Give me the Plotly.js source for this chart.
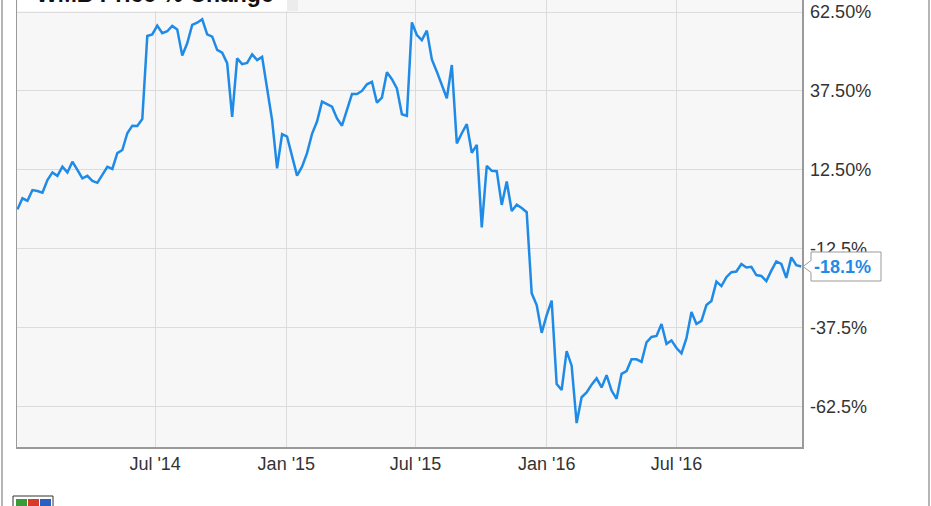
<!DOCTYPE html>
<html>
<head>
<meta charset="utf-8">
<script src="https://cdn.plot.ly/plotly-3.0.1.min.js"></script>
<style>html,body{margin:0;padding:0;background:#fff;}#chart{width:931px;height:506px;}</style>
</head>
<body>
<div id="chart"></div>
<script>
var dates = [
"2013-12-20","2013-12-27",
"2014-01-03","2014-01-10","2014-01-17","2014-01-24","2014-01-31","2014-02-07","2014-02-14","2014-02-21","2014-02-28",
"2014-03-07","2014-03-14","2014-03-21","2014-03-28","2014-04-04","2014-04-11","2014-04-18","2014-04-25",
"2014-05-02","2014-05-09","2014-05-16","2014-05-23","2014-05-30","2014-06-06","2014-06-13","2014-06-20","2014-06-27",
"2014-07-04","2014-07-11","2014-07-18","2014-07-25","2014-08-01","2014-08-08","2014-08-15","2014-08-22","2014-08-29",
"2014-09-05","2014-09-12","2014-09-19","2014-09-26","2014-10-03","2014-10-10","2014-10-17","2014-10-24","2014-10-31",
"2014-11-07","2014-11-14","2014-11-21","2014-11-28","2014-12-05","2014-12-12","2014-12-19","2014-12-26",
"2015-01-02","2015-01-09","2015-01-16","2015-01-23","2015-01-30","2015-02-06","2015-02-13","2015-02-20","2015-02-27",
"2015-03-06","2015-03-13","2015-03-20","2015-03-27","2015-04-03","2015-04-10","2015-04-17","2015-04-24",
"2015-05-01","2015-05-08","2015-05-15","2015-05-22","2015-05-29","2015-06-05","2015-06-12","2015-06-19","2015-06-26",
"2015-07-03","2015-07-10","2015-07-17","2015-07-24","2015-07-31","2015-08-07","2015-08-14","2015-08-21","2015-08-28",
"2015-09-04","2015-09-11","2015-09-18","2015-09-25","2015-10-02","2015-10-09","2015-10-16","2015-10-23","2015-10-30",
"2015-11-06","2015-11-13","2015-11-20","2015-11-27","2015-12-04","2015-12-11","2015-12-18","2015-12-25",
"2016-01-01","2016-01-08","2016-01-15","2016-01-22","2016-01-29","2016-02-05","2016-02-12","2016-02-19","2016-02-26",
"2016-03-04","2016-03-11","2016-03-18","2016-03-25","2016-04-01","2016-04-08","2016-04-15","2016-04-22","2016-04-29",
"2016-05-06","2016-05-13","2016-05-20","2016-05-27","2016-06-03","2016-06-10","2016-06-17","2016-06-24",
"2016-07-01","2016-07-08","2016-07-15","2016-07-22","2016-07-29","2016-08-05","2016-08-12","2016-08-19","2016-08-26",
"2016-09-02","2016-09-09","2016-09-16","2016-09-23","2016-09-30","2016-10-07","2016-10-14","2016-10-21","2016-10-28",
"2016-11-04","2016-11-11","2016-11-18","2016-11-25","2016-12-02","2016-12-09","2016-12-16","2016-12-23"
];

var wmbChange = [
0.0, 3.5, 2.7, 6.1, 5.8, 5.3, 9.3, 11.7, 10.6, 13.5,
11.7, 15.1, 12.5, 9.8, 10.6, 9.0, 8.4, 10.9, 13.5, 12.8,
17.8, 18.8, 24.1, 26.5, 26.4, 28.6, 54.9, 55.4, 58.2, 55.8,
56.4, 58.1, 57.0, 48.7, 52.6, 58.4, 59.1, 60.2, 55.4, 54.7,
50.5, 49.6, 46.3, 29.3, 47.8, 46.0, 46.4, 49.1, 47.3, 48.3,
37.5, 28.3, 13.0, 23.8, 23.0, 16.9, 10.7, 13.5, 17.8, 23.9,
27.8, 34.1, 33.3, 32.5, 28.8, 26.5, 31.5, 36.5, 36.5, 37.5,
39.6, 40.4, 33.8, 35.4, 43.4, 41.2, 38.3, 30.1, 29.6, 59.2,
55.2, 53.6, 56.6, 47.5, 43.6, 39.4, 35.2, 45.7, 20.9, 24.1,
27.0, 17.9, 20.4, -5.7, 13.8, 12.2, 12.1, 1.4, 8.8, -0.5,
1.5, 0.4, -0.9, -26.6, -30.3, -39.1, -33.5, -28.9, -55.3, -57.2,
-44.9, -49.5, -67.7, -59.5, -58.0, -55.5, -53.5, -56.4, -52.5, -57.4,
-60.0, -52.1, -51.2, -47.5, -47.5, -48.3, -42.1, -40.4, -40.1, -36.3,
-42.6, -41.5, -43.9, -45.6, -40.8, -32.5, -36.3, -35.3, -30.3, -29.0,
-22.9, -24.3, -21.5, -19.9, -19.7, -17.3, -18.4, -18.2, -20.8, -21.1,
-22.7, -19.4, -16.5, -17.3, -21.7, -15.2, -17.7, -18.1
];

var xTickVals = ["2014-07-01","2015-01-01","2015-07-01","2016-01-01","2016-07-01"];
var xTickText = ["Jul '14","Jan '15","Jul '15","Jan '16","Jul '16"];
var yTickVals = [62.5, 37.5, 12.5, -12.5, -37.5, -62.5];
var yTickText = ["62.50%","37.50%","12.50%","-12.5%","-37.5%","-62.5%"];
var chartTitle = "WMB Price % Change";

var W = 931, H = 506;
var M = {l: 17, r: 129, t: 0, b: 59};
var PW = W - M.l - M.r, PH = H - M.t - M.b;
var yRange = [-75.26, 66.3];
function px(p) { return (p - M.l) / PW; }
function py(p) { return (H - M.b - p) / PH; }

var lastVal = wmbChange[wmbChange.length - 1];
var lastY = (lastVal - yRange[0]) / (yRange[1] - yRange[0]);
var lineColor = "#1f8be6";
var font = "Liberation Sans, Arial, Helvetica, sans-serif";

var trace = {
  x: dates, y: wmbChange, type: "scatter", mode: "lines",
  line: {color: lineColor, width: 2.5}, hoverinfo: "x+y", showlegend: false
};

var layout = {
  width: W, height: H, autosize: false,
  margin: {l: M.l, r: M.r, t: M.t, b: M.b, pad: 0},
  paper_bgcolor: "#ffffff", plot_bgcolor: "#f7f7f7",
  font: {family: font, size: 18, color: "#333333"},
  showlegend: false,
  xaxis: {
    type: "date", range: ["2013-12-19 08:00", "2016-12-24"],
    tickvals: xTickVals, ticktext: xTickText,
    showgrid: true, gridcolor: "#dcdcdc", gridwidth: 1,
    showline: true, linecolor: "#9a9a9a", linewidth: 1.5,
    ticks: "", zeroline: false, fixedrange: true,
    tickfont: {family: font, size: 18, color: "#333333"}
  },
  yaxis: {
    side: "right", range: yRange,
    tickvals: yTickVals, ticktext: yTickText,
    showgrid: true, gridcolor: "#dcdcdc", gridwidth: 1,
    showline: true, mirror: true, linecolor: "#9a9a9a", linewidth: 1.5,
    ticks: "outside", ticklen: 3, tickcolor: "rgba(0,0,0,0)",
    zeroline: false, fixedrange: true,
    tickfont: {family: font, size: 18, color: "#333333"}
  },
  shapes: [
    {type: "line", xref: "paper", yref: "paper", x0: px(2), x1: px(2), y0: py(H + 5), y1: py(-5),
     line: {color: "#b5b5b5", width: 2}},
    {type: "line", xref: "paper", yref: "paper", x0: px(929), x1: px(929), y0: py(H + 5), y1: py(-5),
     line: {color: "#b5b5b5", width: 2}},
    {type: "rect", xref: "paper", yref: "paper", x0: px(287), x1: px(298), y0: py(11), y1: py(-10),
     fillcolor: "#ececec", line: {width: 0}, layer: "above"},
    {type: "rect", xref: "paper", yref: "paper", x0: px(18), x1: px(287), y0: py(11), y1: py(-10),
     fillcolor: "#ffffff", line: {width: 0}, layer: "above"},
    {type: "path", xref: "paper", yref: "paper", xsizemode: "pixel", ysizemode: "pixel",
     xanchor: 1, yanchor: lastY,
     path: "M 1,0 L 9,6 L 9,14.5 L 79,14.5 L 79,-14.5 L 9,-14.5 L 9,-6 Z",
     fillcolor: "#ffffff", line: {color: "#9a9a9a", width: 1}, layer: "above"},
    {type: "rect", xref: "paper", yref: "paper", x0: px(13), x1: px(53), y0: py(507), y1: py(496),
     fillcolor: "#ffffff", line: {color: "#333333", width: 1}},
    {type: "rect", xref: "paper", yref: "paper", x0: px(16), x1: px(27), y0: py(507), y1: py(499),
     fillcolor: "#3a9a3a", line: {width: 0}},
    {type: "rect", xref: "paper", yref: "paper", x0: px(28), x1: px(39), y0: py(507), y1: py(499),
     fillcolor: "#d83a2a", line: {width: 0}},
    {type: "rect", xref: "paper", yref: "paper", x0: px(40), x1: px(51), y0: py(507), y1: py(499),
     fillcolor: "#2a5fc0", line: {width: 0}}
  ],
  annotations: [
    {xref: "paper", yref: "paper", x: px(35), y: py(8), xanchor: "left", yanchor: "bottom",
     text: "<b>" + chartTitle + "</b>", showarrow: false, borderpad: 0,
     font: {family: font, size: 23, color: "#111111"}},
    {xref: "paper", yref: "y", x: 1, y: lastVal, xanchor: "left", yanchor: "middle", xshift: 11,
     text: "<b>" + lastVal.toFixed(1) + "%</b>", showarrow: false, borderpad: 0,
     font: {family: font, size: 18, color: lineColor}}
  ]
};

Plotly.newPlot("chart", [trace], layout, {displayModeBar: false, staticPlot: true});
</script>
</body>
</html>
